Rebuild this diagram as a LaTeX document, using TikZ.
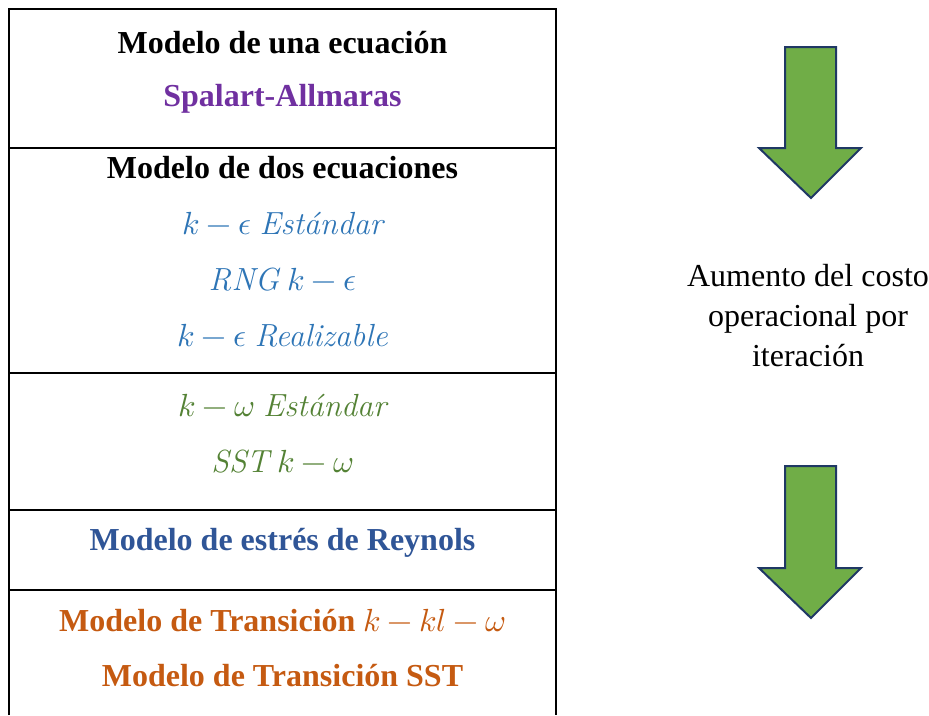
\documentclass[tikz,border=0pt]{standalone}
\usepackage{unicode-math}
\setmainfont{Liberation Serif}
\setmathfont{Latin Modern Math}
\newfontfamily\lmfont{Latin Modern Roman}
\definecolor{cpurple}{HTML}{7030A0}
\definecolor{cblue}{HTML}{2E75B6}
\definecolor{cgreen}{HTML}{548235}
\definecolor{cdblue}{HTML}{2F5597}
\definecolor{corange}{HTML}{C55A11}
\definecolor{afill}{HTML}{70AD47}
\definecolor{aline}{HTML}{1F3864}
\newcommand{\mi}[1]{{\lmfont\itshape #1}}
\begin{document}
\begin{tikzpicture}[x=1pt,y=-1pt,
  rule/.style={line width=2pt,black},
  bold/.style={font=\fontsize{32}{38}\selectfont\bfseries,anchor=center,inner sep=0pt},
  mathrow/.style={font=\fontsize{32}{40}\selectfont,anchor=center,inner sep=0pt},
  side/.style={font=\fontsize{32}{40}\selectfont,anchor=center,inner sep=0pt},
  bigarrow/.style={fill=afill,draw=aline,line width=2pt,line join=miter}]
\useasboundingbox (0,0) rectangle (929,715);
\draw[rule] (9,715) -- (9,9) -- (556,9) -- (556,715);
\foreach \yy in {148,373,510,590} \draw[rule] (9,\yy) -- (556,\yy);
\node[bold] (t1) at (282.5,43) {Modelo de una ecuación};
\node[bold,text=cpurple] (t2) at (282.5,99) {Spalart-Allmaras};
\node[bold] (t3) at (282.5,168) {Modelo de dos ecuaciones};
\node[mathrow,text=cblue] (t4) at (282.5,224) {$k-\epsilon$ \mi{Estándar}};
\node[mathrow,text=cblue] (t5) at (282.5,280) {\mi{RNG} $k-\epsilon$};
\node[mathrow,text=cblue] (t6) at (282.5,336) {$k-\epsilon$ \mi{Realizable}};
\node[mathrow,text=cgreen] (t7) at (282.5,406) {$k-\omega$ \mi{Estándar}};
\node[mathrow,text=cgreen] (t8) at (282.5,462) {\mi{SST} $k-\omega$};
\node[bold,text=cdblue] (t9) at (282.5,543) {Modelo de estrés de Reynols};
\node[bold,text=corange] (t10) at (282.5,621) {Modelo de Transición {\mdseries$k-kl-\omega$}};
\node[bold,text=corange] (t11) at (282.5,676) {Modelo de Transición SST};
\node[side,align=center] (s1) at (808,316) {Aumento del costo\\operacional por\\iteración};
\draw[bigarrow] (785,47) -- (836,47) -- (836,148) -- (861,148) -- (811,198) -- (759,148) -- (785,148) -- cycle;
\draw[bigarrow] (785,466) -- (836,466) -- (836,568) -- (861,568) -- (811,618) -- (759,568) -- (785,568) -- cycle;
\end{tikzpicture}
\end{document}
